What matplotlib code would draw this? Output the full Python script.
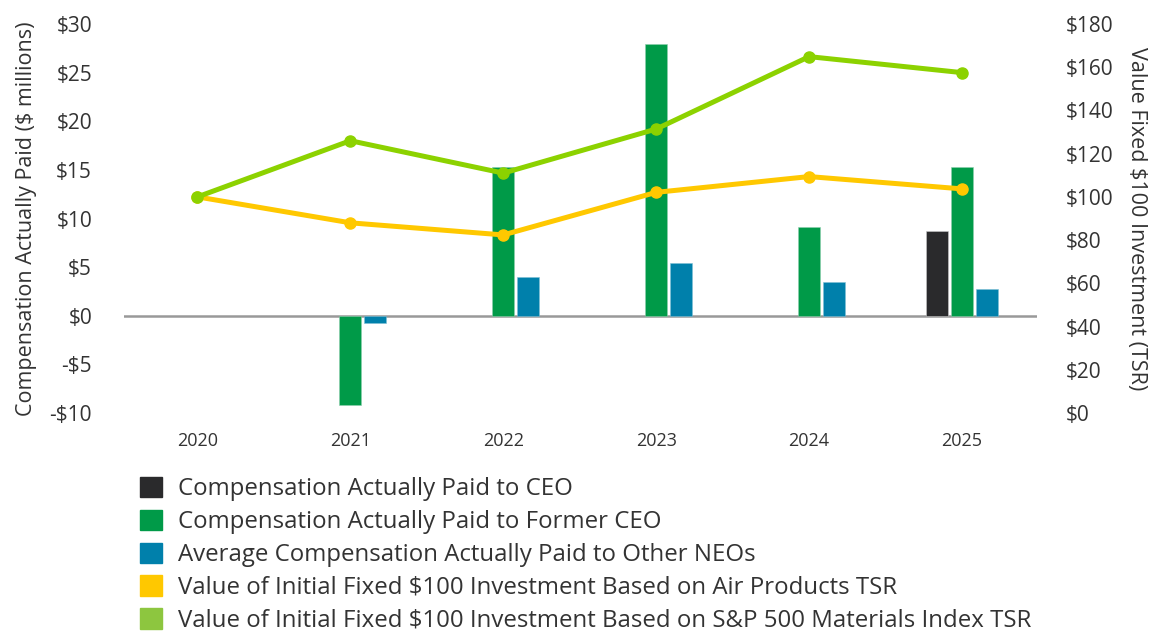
import numpy as np
import matplotlib
matplotlib.use("Agg")
import matplotlib.pyplot as plt
from matplotlib.patches import Patch

plt.rcParams['font.family'] = ['Open Sans', 'DejaVu Sans']

# data
years = ['2020', '2021', '2022', '2023', '2024', '2025']
cap_ceo = [0, 0, 0, 0, 0, 8.7]
cap_former_ceo = [0, -9.2, 15.3, 27.9, 9.1, 15.3]
cap_other_neos = [0, -0.75, 4.0, 5.4, 3.5, 2.75]
tsr_apd = [100, 88, 82.4, 102.1, 109.4, 103.7]
tsr_sp500_materials = [100, 126, 111, 131.4, 164.9, 157.5]

labels = [
    'Compensation Actually Paid to CEO',
    'Compensation Actually Paid to Former CEO',
    'Average Compensation Actually Paid to Other NEOs',
    'Value of Initial Fixed $100 Investment Based on Air Products TSR',
    'Value of Initial Fixed $100 Investment Based on S&P 500 Materials Index TSR',
]

c_ceo = '#2a2a2c'
c_former = '#009a48'
c_neo = '#0080ab'
c_apd = '#ffc800'
c_sp = '#8cd200'
c_sp_legend = '#8dc63f'
txt = '#333333'

fig = plt.figure(figsize=(11.57, 6.32), dpi=100)
ax = fig.add_axes([124 / 1157, 1 - 413 / 632, (1037 - 124) / 1157, (413 - 24) / 632])
ax2 = ax.twinx()

x = np.arange(len(years))
w = 0.143
off = 0.163
for i in range(len(years)):
    if cap_ceo[i] != 0:
        ax.bar(x[i] - off, cap_ceo[i], w, color=c_ceo, edgecolor='#c8c8c8', linewidth=0.4, zorder=2)
    if cap_former_ceo[i] != 0:
        ax.bar(x[i], cap_former_ceo[i], w, color=c_former, edgecolor='#8fcfae', linewidth=0.4, zorder=2)
    if cap_other_neos[i] != 0:
        ax.bar(x[i] + off, cap_other_neos[i], w, color=c_neo, edgecolor='#7fbfd5', linewidth=0.4, zorder=2)

ax.axhline(0, color='#999999', linewidth=1.8, zorder=1)
ax.set_ylim(-10, 30)
ax.set_yticks(np.arange(-10, 31, 5))
ax.set_yticklabels([('-$%d' % -v) if v < 0 else ('$%d' % v) for v in range(-10, 31, 5)])
ax.set_xlim(-0.48, 5.49)
ax.set_xticks(x)
ax.set_xticklabels(years)
ax.set_ylabel('Compensation Actually Paid ($ millions)', fontsize=15.5, color=txt, labelpad=9)

ax2.plot(x, tsr_apd, color=c_apd, linewidth=3.6, marker='o', markersize=8, zorder=3)
ax2.plot(x, tsr_sp500_materials, color=c_sp, linewidth=3.6, marker='o', markersize=8, zorder=3)
ax2.set_ylim(0, 180)
ax2.set_yticks(np.arange(0, 181, 20))
ax2.set_yticklabels(['$%d' % v for v in range(0, 181, 20)])
ax2.set_ylabel('Value Fixed $100 Investment (TSR)', fontsize=15.5, color=txt, rotation=270, labelpad=24)

for a in (ax, ax2):
    for s in a.spines.values():
        s.set_visible(False)
    a.tick_params(length=0, colors=txt)
ax.tick_params(axis='y', labelsize=15, pad=23)
ax2.tick_params(axis='y', labelsize=15, pad=21)
ax.tick_params(axis='x', labelsize=13, pad=14)

handles = [Patch(color=c) for c in (c_ceo, c_former, c_neo, c_apd, c_sp_legend)]
fig.legend(handles, labels, loc='upper left', bbox_to_anchor=(140 / 1157, 1 - 477 / 632),
           frameon=False, fontsize=17.3, handlelength=0.92, handleheight=0.92,
           handletextpad=0.66, labelspacing=0.35, labelcolor=txt, borderpad=0, borderaxespad=0)

fig.savefig('out.png', dpi=100)
